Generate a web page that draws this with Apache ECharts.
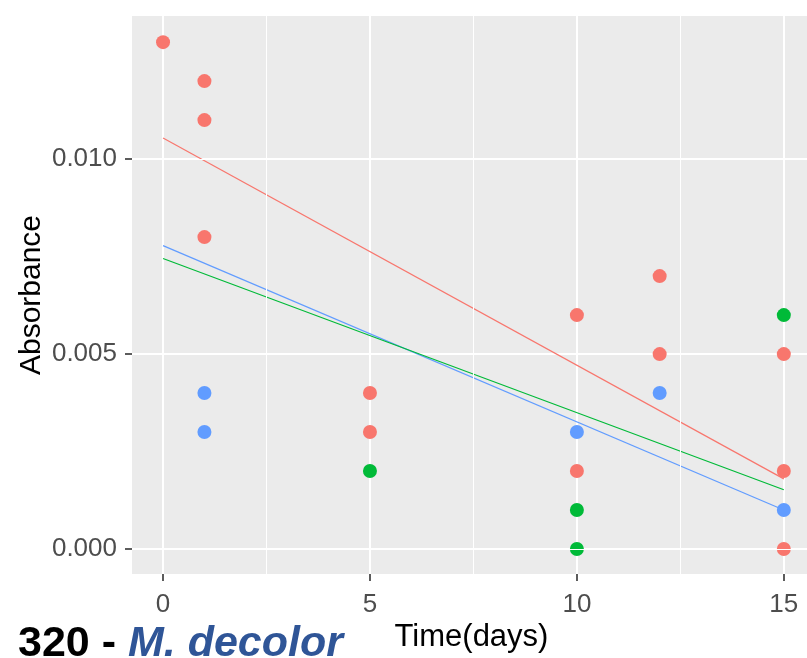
<!DOCTYPE html>
<html>
<head>
<meta charset="utf-8">
<script src="https://cdn.jsdelivr.net/npm/echarts@6/dist/echarts.min.js"></script>
<style>html,body{margin:0;padding:0;background:#fff}#c{width:807px;height:658px}</style>
</head>
<body>
<div id="c"></div>
<script>
// Data
const redPoints = [[0,0.013],[1,0.012],[1,0.011],[1,0.008],[5,0.004],[5,0.003],[10,0.006],[10,0.002],[12,0.007],[12,0.005],[15,0.005],[15,0.002],[15,0.000]];
const bluePoints = [[1,0.004],[1,0.003],[10,0.003],[12,0.004],[15,0.001]];
const greenPoints = [[5,0.002],[10,0.001],[10,0.000],[15,0.006]];
// fitted lines (endpoints)
const redFit = [[0,0.01054],[15,0.0018]];
const blueFit = [[0,0.00778],[15,0.00100]];
const greenFit = [[0,0.00745],[15,0.00152]];
// axes
const xMajorTicks = [0,5,10,15];
const xMinorTicks = [2.5,7.5,12.5];
const yMajorTicks = [0,0.005,0.010];
const yMinorTicks = [0.0025,0.0075,0.0125];
const xRange = [-0.75, 15.56];
const yRange = [-0.00064, 0.01367];

const RED='#F8766D', GREEN='#00BA38', BLUE='#619CFF';
const FONT='Liberation Sans, Arial, sans-serif';

const chart = echarts.init(document.getElementById('c'), null, {renderer:'canvas'});
const minorGridData = xMinorTicks.map(v=>({xAxis:v})).concat(yMinorTicks.map(v=>({yAxis:v})));
const option = {
  animation:false,
  backgroundColor:'#ffffff',
  grid:{left:132, top:16, right:0, height:558, show:true, backgroundColor:'#EBEBEB', borderWidth:0, containLabel:false},
  xAxis:{type:'value', min:xRange[0], max:xRange[1],
     axisLine:{show:false, onZero:false},
     axisTick:{show:true, length:7, lineStyle:{color:'#333333', width:1.6}, customValues:xMajorTicks},
     axisLabel:{show:true, customValues:xMajorTicks, color:'#4D4D4D', fontSize:26, fontFamily:FONT, margin:18},
     splitLine:{show:true, lineStyle:{color:'#ffffff', width:2}},
     name:'Time(days)', nameLocation:'middle', nameGap:48, nameMoveOverlap:false,
     nameTextStyle:{color:'#000000', fontSize:31, fontFamily:FONT, padding:[0,0,0,4]}
  },
  yAxis:{type:'value', min:yRange[0], max:yRange[1],
     axisLine:{show:false, onZero:false},
     axisTick:{show:true, length:7, lineStyle:{color:'#333333', width:1.6}, customValues:yMajorTicks},
     axisLabel:{show:true, customValues:yMajorTicks, color:'#4D4D4D', fontSize:26, fontFamily:FONT, margin:15,
       formatter:(v)=>v.toFixed(3)},
     splitLine:{show:true, lineStyle:{color:'#ffffff', width:2}},
     name:'Absorbance', nameLocation:'middle', nameGap:85, nameRotate:90, nameMoveOverlap:false,
     nameTextStyle:{color:'#000000', fontSize:30, fontFamily:FONT}
  },
  series:[
    {type:'line', data:[], z:1, silent:true,
     markLine:{silent:true, symbol:['none','none'], label:{show:false}, animation:false,
       lineStyle:{color:'#ffffff', width:1, type:'solid'}, emphasis:{disabled:true},
       data:minorGridData}},
    {type:'line', data:redFit, showSymbol:false, symbol:'none', lineStyle:{color:RED, width:1.2}, z:3},
    {type:'line', data:blueFit, showSymbol:false, symbol:'none', lineStyle:{color:BLUE, width:1.2}, z:3},
    {type:'line', data:greenFit, showSymbol:false, symbol:'none', lineStyle:{color:GREEN, width:1.2}, z:3},
    {type:'scatter', data:redPoints, symbolSize:14, itemStyle:{color:RED, opacity:1}, z:4},
    {type:'scatter', data:bluePoints, symbolSize:14, itemStyle:{color:BLUE, opacity:1}, z:4},
    {type:'scatter', data:greenPoints, symbolSize:14, itemStyle:{color:GREEN, opacity:1}, z:4}
  ],
  graphic:[
    {type:'text', left:18, top:623, z:10,
     style:{text:'{a|320 - }{b|M. decolor}', font:'bold 43px '+FONT,
       rich:{
         a:{fontSize:43, fontWeight:'bold', fontFamily:FONT, fill:'#000000', color:'#000000'},
         b:{fontSize:43, fontWeight:'bold', fontStyle:'italic', fontFamily:FONT, fill:'#2F5597', color:'#2F5597'}
       }}}
  ]
};
chart.setOption(option);
</script>
</body>
</html>
